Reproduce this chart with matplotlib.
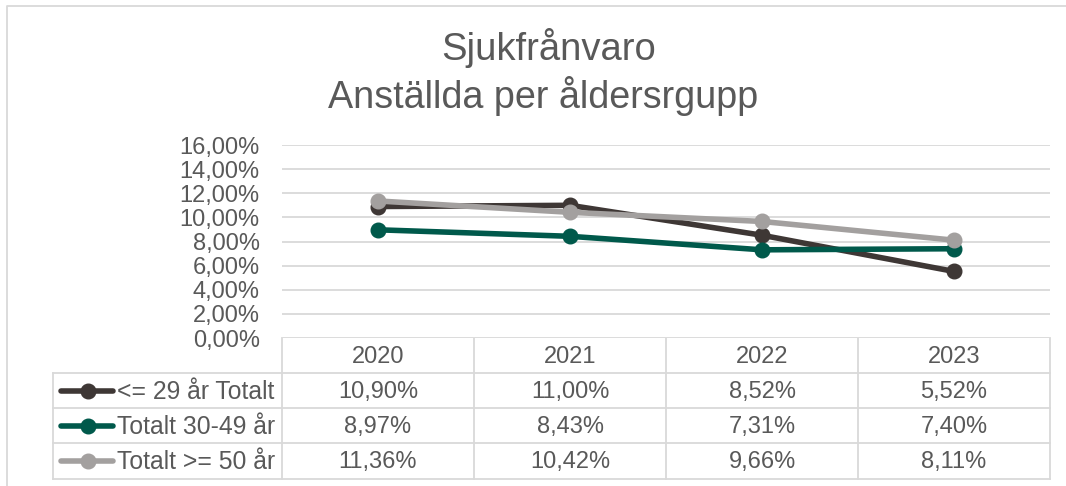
import matplotlib.pyplot as plt
from matplotlib.lines import Line2D

plt.rcParams['font.family'] = ['Liberation Sans', 'DejaVu Sans']

# Data (percent)
years = ['2020', '2021', '2022', '2023']
series_names = ['<= 29 år Totalt', 'Totalt 30-49 år', 'Totalt >= 50 år']
under_29 = [10.90, 11.00, 8.52, 5.52]
age_30_49 = [8.97, 8.43, 7.31, 7.40]
over_50 = [11.36, 10.42, 9.66, 8.11]
y_ticks = [0, 2, 4, 6, 8, 10, 12, 14, 16]

all_series = [under_29, age_30_49, over_50]
colors = ['#3E3735', '#00594B', '#A3A09F']
text_color = '#595959'
grid_color = '#D9D9D9'

W, H = 1066, 486
fig = plt.figure(figsize=(W / 100, H / 100), dpi=100)


def fx(px):
    return px / W


def fy(py):
    return 1 - py / H


def pct(v):
    return f'{v:.2f}%'.replace('.', ',')


# plot area in pixel coordinates
left, right, top, bottom = 282, 1050, 145, 338
ax = fig.add_axes([fx(left), fy(bottom), fx(right - left), (bottom - top) / H])
for vals, c in zip(all_series, colors):
    ax.plot(range(len(years)), vals, color=c, lw=4, marker='o', markersize=10.5,
            solid_capstyle='round')
ax.set_xlim(-0.5, len(years) - 0.5)
ax.set_ylim(0, 16)
ax.set_yticks(y_ticks)
ax.set_yticklabels([pct(t) for t in y_ticks], fontsize=17, color=text_color)
ax.set_xticks([])
ax.tick_params(axis='y', length=0, pad=16)
for t in y_ticks:
    ax.axhline(t, color=grid_color, lw=1.3, zorder=0)
for s in ax.spines.values():
    s.set_visible(False)

# overlay in pixel coordinates for title, table and border
ov = fig.add_axes([0, 0, 1, 1], zorder=-1)
ov.set_xlim(0, W)
ov.set_ylim(H, 0)
ov.axis('off')

# outer chart border
ov.plot([7, 7, W + 5], [H + 5, 6, 6], color=grid_color, lw=1.3)

ov.text(549, 60, 'Sjukfrånvaro', ha='center', va='baseline', fontsize=27.5, color=text_color)
ov.text(543, 108, 'Anställda per åldersrgupp', ha='center', va='baseline', fontsize=27.2,
        color=text_color)

# data table
col_edges = [282, 474, 666, 858, 1050]
row_edges = [338, 373, 408, 443, 479]
leg_left = 53
lc = dict(color=grid_color, lw=1.3)
for r in row_edges[1:]:
    ov.plot([leg_left, col_edges[-1]], [r, r], **lc)
ov.plot([leg_left, leg_left], [row_edges[1], row_edges[-1]], **lc)
for c in col_edges:
    ov.plot([c, c], [row_edges[0], row_edges[-1]], **lc)

for j, yr in enumerate(years):
    xc = (col_edges[j] + col_edges[j + 1]) / 2
    ov.text(xc, (row_edges[0] + row_edges[1]) / 2 + 1, yr, ha='center', va='center',
            fontsize=17, color=text_color)

for i, (name, vals, c) in enumerate(zip(series_names, all_series, colors)):
    yc = (row_edges[i + 1] + row_edges[i + 2]) / 2
    ov.add_line(Line2D([61, 113], [yc, yc], color=c, lw=4, solid_capstyle='round'))
    ov.plot([88], [yc], marker='o', color=c, markersize=10.5)
    ov.text(117, yc + 1, name, ha='left', va='center', fontsize=17.8, color=text_color)
    for j, v in enumerate(vals):
        xc = (col_edges[j] + col_edges[j + 1]) / 2
        ov.text(xc, yc + 1, pct(v), ha='center', va='center', fontsize=17, color=text_color)

fig.savefig('out.png', dpi=100, facecolor='white')
